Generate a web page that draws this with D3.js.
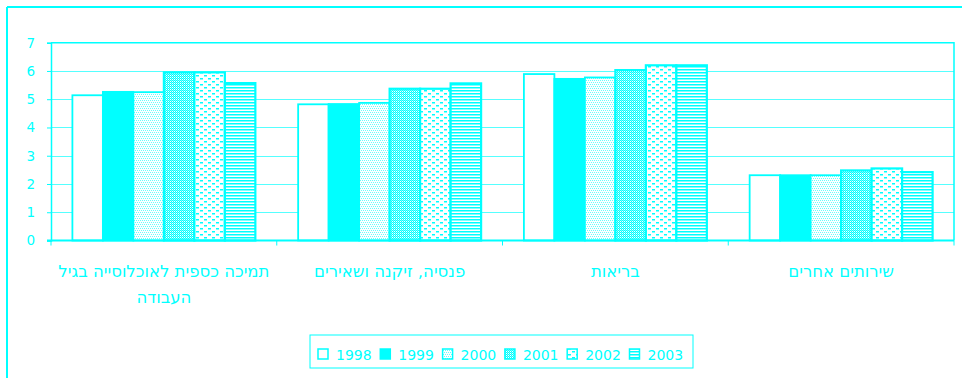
<!DOCTYPE html>
<html><head><meta charset="utf-8">
<script src="https://cdn.jsdelivr.net/npm/d3@7"></script>
<style>
html,body{margin:0;padding:0;background:#fff;}
svg{display:block;font-family:"DejaVu Sans",sans-serif;}
</style></head>
<body><svg id="c" width="962" height="378"></svg>
<script>
const categories = ["תמיכה כספית לאוכלוסייה בגיל העבודה", "פנסיה, זיקנה ושאירים", "בריאות", "שירותים אחרים"];
const years = ["1998", "1999", "2000", "2001", "2002", "2003"];
const v1998 = [5.14, 4.82, 5.89, 2.31];
const v1999 = [5.26, 4.83, 5.72, 2.31];
const v2000 = [5.25, 4.87, 5.77, 2.31];
const v2001 = [5.95, 5.37, 6.03, 2.48];
const v2002 = [5.95, 5.37, 6.20, 2.55];
const v2003 = [5.57, 5.56, 6.20, 2.42];
const yTicks = [0, 1, 2, 3, 4, 5, 6, 7];
const seriesValues = [v1998, v1999, v2000, v2001, v2002, v2003];

const C = "#00ffff";
const svg = d3.select("#c");
const defs = svg.append("defs");

function pat(id, w, h, draw) {
  const p = defs.append("pattern").attr("id", id).attr("patternUnits", "userSpaceOnUse")
    .attr("width", w).attr("height", h);
  p.append("rect").attr("width", w).attr("height", h).attr("fill", "#fff");
  draw(p);
}
pat("p2000", 4, 4, p => {
  [[0,0],[2,0],[1,2],[3,2]].forEach(([x,y]) => p.append("rect").attr("x",x).attr("y",y).attr("width",1).attr("height",1).attr("fill","#6ff"));
});
pat("p2001", 2, 2, p => {
  p.append("rect").attr("x",0).attr("y",0).attr("width",1).attr("height",1).attr("fill",C);
  p.append("rect").attr("x",1).attr("y",1).attr("width",1).attr("height",1).attr("fill",C);
  p.append("rect").attr("x",1).attr("y",0).attr("width",1).attr("height",1).attr("fill","#7ff");
});
pat("p2002", 8, 6, p => {
  p.append("rect").attr("x",0).attr("y",0).attr("width",3).attr("height",1.5).attr("fill",C);
  p.append("rect").attr("x",4).attr("y",3).attr("width",3).attr("height",1.5).attr("fill",C);
});
pat("p2003", 4, 3, p => {
  p.append("rect").attr("x",0).attr("y",0).attr("width",4).attr("height",1.5).attr("fill",C);
});
const fills = ["#fff", C, "url(#p2000)", "url(#p2001)", "url(#p2002)", "url(#p2003)"];

// outer frame (top and left visible)
svg.append("line").attr("x1",7).attr("y1",7).attr("x2",962).attr("y2",7).attr("stroke",C).attr("stroke-width",2);
svg.append("line").attr("x1",7).attr("y1",7).attr("x2",7).attr("y2",378).attr("stroke",C).attr("stroke-width",2);

const L = 51, R = 954, T = 42.7, B = 240.5;
const y = d3.scaleLinear().domain([0, 7]).range([B, T]);
const x0 = d3.scaleBand().domain(categories).range([L, R]).padding(0);
const gw = x0.bandwidth();
const x1 = d3.scaleBand().domain(years).range([21.4, gw - 21.4]).padding(0);

// gridlines
svg.append("g").selectAll("line").data(yTicks.filter(t => t > 0 && t < 7)).join("line")
  .attr("x1", L).attr("x2", R).attr("y1", d => Math.round(y(d)) + 0.5).attr("y2", d => Math.round(y(d)) + 0.5)
  .attr("stroke", "#55ffff").attr("stroke-width", 1);
// plot frame top/right
svg.append("path").attr("d", `M${L},${T}H${R}V${B}`).attr("fill","none").attr("stroke",C).attr("stroke-width",1.5);

// bars
const g = svg.append("g");
categories.forEach((cat, ci) => {
  years.forEach((yr, si) => {
    const v = seriesValues[si][ci];
    g.append("rect")
      .attr("x", x0(cat) + x1(yr))
      .attr("y", y(v))
      .attr("width", x1.bandwidth())
      .attr("height", y(0) - y(v))
      .attr("fill", fills[si])
      .attr("stroke", C)
      .attr("stroke-width", si >= 3 ? 2.2 : 1.8);
  });
});

// y axis
const yAxis = d3.axisLeft(y).tickValues(yTicks).tickSize(4).tickPadding(12).tickFormat(d3.format("d"));
const ya = svg.append("g").attr("transform", `translate(${L},0)`).call(yAxis);
ya.select(".domain").attr("stroke", C).attr("stroke-width", 1.5);
ya.selectAll(".tick line").attr("stroke", C);
ya.selectAll(".tick text").attr("fill", C).attr("font-size", 13.5).attr("font-family", "DejaVu Sans");

// x axis
const xa = svg.append("g").attr("transform", `translate(0,${B})`);
xa.append("line").attr("x1", L - 4).attr("x2", R).attr("y1", 0).attr("y2", 0).attr("stroke", C).attr("stroke-width", 2);
xa.selectAll(".tk").data(d3.range(0, categories.length + 1)).join("line")
  .attr("x1", i => L + i * gw).attr("x2", i => L + i * gw).attr("y1", 0).attr("y2", 5)
  .attr("stroke", C).attr("stroke-width", 1);

// category labels with wrapping
const labG = svg.append("g");
categories.forEach(cat => {
  const t = labG.append("text").attr("x", x0(cat) + gw / 2).attr("y", 277)
    .attr("text-anchor", "middle").attr("direction", "rtl")
    .attr("fill", C).attr("font-size", 16.5).attr("font-family", "DejaVu Sans");
  const words = cat.split(" ");
  let line = [], lines = [];
  const ts = t.append("tspan");
  words.forEach(w => {
    line.push(w);
    ts.text(line.join(" "));
    if (ts.node().getComputedTextLength() > gw - 4 && line.length > 1) {
      line.pop(); lines.push(line.join(" ")); line = [w];
    }
  });
  lines.push(line.join(" "));
  ts.remove();
  lines.forEach((ln, i) => {
    t.append("tspan").attr("x", x0(cat) + gw / 2).attr("y", 277 + i * 26).text(ln);
  });
});

// legend
const lg = svg.append("g");
lg.append("rect").attr("x", 310).attr("y", 335).attr("width", 383).attr("height", 33)
  .attr("fill", "#fff").attr("stroke", C).attr("stroke-width", 1);
years.forEach((yr, i) => {
  const lx = 318 + i * 62.3;
  lg.append("rect").attr("x", lx).attr("y", 349).attr("width", 10).attr("height", 10)
    .attr("fill", fills[i]).attr("stroke", C).attr("stroke-width", 1.5);
  lg.append("text").attr("x", lx + 18).attr("y", 359.5).attr("fill", C)
    .attr("font-size", 14).attr("font-family", "DejaVu Sans").text(yr);
});
</script></body></html>
